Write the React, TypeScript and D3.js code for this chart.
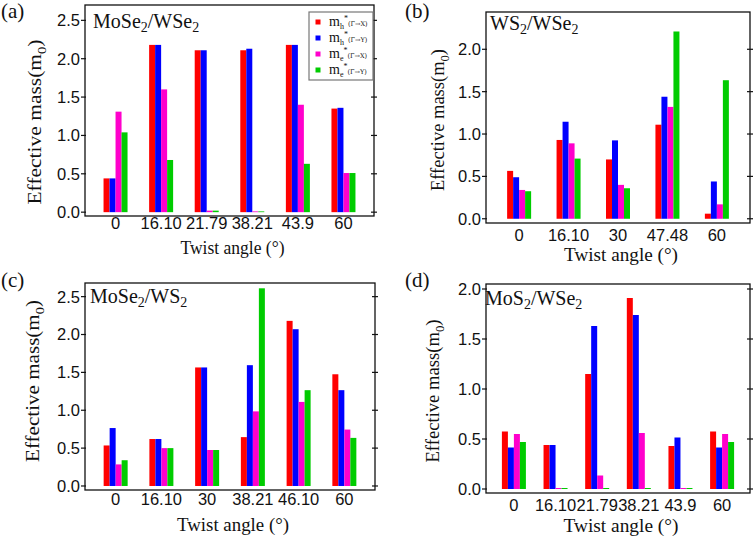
import React from 'react';
import * as d3 from 'd3';

const seriesKeys = ['mhX', 'mhY', 'meX', 'meY'];
const seriesColors = ['#ff0000', '#0000ff', '#ff00cc', '#00cc00'];
const legendSub = ['h', 'h', 'e', 'e'];
const legendDir = ['(Γ→X)', '(Γ→Y)', '(Γ→X)', '(Γ→Y)'];

// Panel (a) MoSe2/WSe2
const catsA = ['0', '16.10', '21.79', '38.21', '43.9', '60'];
const mhXA = [0.44, 2.18, 2.11, 2.11, 2.18, 1.35];
const mhYA = [0.44, 2.18, 2.11, 2.13, 2.18, 1.36];
const meXA = [1.31, 1.6, 0.02, 0.01, 1.4, 0.51];
const meYA = [1.04, 0.68, 0.02, 0.01, 0.63, 0.51];

// Panel (b) WS2/WSe2
const catsB = ['0', '16.10', '30', '47.48', '60'];
const mhXB = [0.565, 0.93, 0.7, 1.11, 0.06];
const mhYB = [0.49, 1.145, 0.925, 1.44, 0.44];
const meXB = [0.34, 0.89, 0.4, 1.32, 0.17];
const meYB = [0.325, 0.71, 0.36, 2.21, 1.635];

// Panel (c) MoSe2/WS2
const catsC = ['0', '16.10', '30', '38.21', '46.10', '60'];
const mhXC = [0.535, 0.62, 1.565, 0.645, 2.18, 1.475];
const mhYC = [0.765, 0.62, 1.565, 1.595, 2.07, 1.265];
const meXC = [0.285, 0.5, 0.475, 0.985, 1.11, 0.745];
const meYC = [0.34, 0.5, 0.475, 2.61, 1.265, 0.635];

// Panel (d) MoS2/WSe2
const catsD = ['0', '16.10', '21.79', '38.21', '43.9', '60'];
const mhXD = [0.575, 0.44, 1.15, 1.91, 0.43, 0.575];
const mhYD = [0.415, 0.44, 1.63, 1.74, 0.515, 0.415];
const meXD = [0.55, 0.01, 0.135, 0.56, 0.01, 0.55];
const meYD = [0.47, 0.01, 0.01, 0.01, 0.01, 0.47];

const ticksA = [0, 0.5, 1, 1.5, 2, 2.5];
const ticksB = [0, 0.5, 1, 1.5, 2];

const titleA: [string, boolean][] = [['MoSe', false], ['2', true], ['/WSe', false], ['2', true]];
const titleB: [string, boolean][] = [['WS', false], ['2', true], ['/WSe', false], ['2', true]];
const titleC: [string, boolean][] = [['MoSe', false], ['2', true], ['/WS', false], ['2', true]];
const titleD: [string, boolean][] = [['MoS', false], ['2', true], ['/WSe', false], ['2', true]];

const xAxisTitle = 'Twist angle (°)';
const yAxisTitle = 'Effective mass(m';

const SERIF = '"Liberation Serif", "DejaVu Serif", serif';
const SANS = '"Liberation Sans", Arial, sans-serif';

type PanelProps = {
  cats: string[];
  values: number[][];
  frame: [number, number, number, number];
  domain: [number, number];
  ticks: number[];
  label: string;
  labelX: number;
  labelY: number;
  title: [string, boolean][];
  titleX: number;
  titleY: number;
  xLabOff: number;
  xTitleOff: number;
  xTitleLen: number;
  yTitleX: number;
  yTitleY: number;
  yTitleLen: number;
  legend?: boolean;
};

function Panel(p: PanelProps) {
  const [x0, x1, y0, y1] = p.frame;
  const x = d3.scaleBand<string>().domain(p.cats).range([x0, x1]).paddingInner(0).paddingOuter(0.17);
  const y = d3.scaleLinear().domain(p.domain).range([y1, y0]);
  const groupW = 24;
  const inner = d3.scaleBand<string>().domain(seriesKeys).range([0, groupW]);
  const bw = x.bandwidth();
  return (
    <g>
      {p.cats.map((c, ci) =>
        seriesKeys.map((k, si) => {
          const v = p.values[si][ci];
          const bx = (x(c) as number) + bw / 2 - groupW / 2 + (inner(k) as number);
          return (
            <rect
              key={c + k}
              x={bx}
              y={y(v)}
              width={inner.bandwidth()}
              height={Math.max(0, y(0) - y(v))}
              fill={seriesColors[si]}
            />
          );
        })
      )}
      <rect x={x0} y={y0} width={x1 - x0} height={y1 - y0} fill="none" stroke="#111" strokeWidth={1.3} />
      {p.ticks.map((t) => (
        <g key={t}>
          <line x1={x0 - 4} x2={x0 + 1} y1={y(t)} y2={y(t)} stroke="#111" strokeWidth={1.2} />
          <line x1={x1 - 3} x2={x1 + 3} y1={y(t)} y2={y(t)} stroke="#111" strokeWidth={1.2} />
          <text x={x0 - 5} y={y(t)} dy="0.36em" textAnchor="end" fontFamily={SANS} fontSize={16.5} fill="#111">
            {d3.format('.1f')(t)}
          </text>
        </g>
      ))}
      {p.cats.map((c) => (
        <text
          key={c}
          x={(x(c) as number) + bw / 2}
          y={y1 + p.xLabOff}
          textAnchor="middle"
          fontFamily={SANS}
          fontSize={16.5}
          fill="#111"
        >
          {c}
        </text>
      ))}
      <text
        x={(x0 + x1) / 2 + 3}
        y={y1 + p.xTitleOff}
        textAnchor="middle"
        fontFamily={SERIF}
        fontSize={19}
        fill="#111"
        textLength={p.xTitleLen}
        lengthAdjust="spacingAndGlyphs"
      >
        {xAxisTitle}
      </text>
      <text
        transform={`translate(${p.yTitleX},${p.yTitleY}) rotate(-90)`}
        textAnchor="middle"
        fontFamily={SERIF}
        fontSize={19}
        fill="#111"
        textLength={p.yTitleLen}
        lengthAdjust="spacingAndGlyphs"
      >
        {yAxisTitle}
        <tspan fontSize={13} dy={5}>0</tspan>
        <tspan dy={-5}>)</tspan>
      </text>
      <text x={p.labelX} y={p.labelY} fontFamily={SERIF} fontSize={21} fill="#111">
        {p.label}
      </text>
      <text x={p.titleX} y={p.titleY} fontFamily={SERIF} fontSize={20} fill="#111">
        {p.title.map(([s, sub], i) => (
          <tspan key={i} fontSize={sub ? 14 : 20} dy={sub ? 4 : i > 0 ? -4 : 0}>
            {s}
          </tspan>
        ))}
      </text>
      {p.legend && (
        <g>
          <rect x={309} y={12} width={x1 - 310} height={68} fill="#fff" stroke="#777" strokeWidth={1.2} />
          {seriesKeys.map((k, i) => {
            const cy = 22 + i * 16;
            return (
              <g key={k}>
                <rect x={315.5} y={cy - 2.5} width={5} height={5} fill={seriesColors[i]} />
                <text x={329} y={cy + 4} fontFamily={SERIF} fontSize={14} fill="#111">
                  m
                  <tspan fontSize={8} dy={3}>{legendSub[i]}</tspan>
                  <tspan fontSize={8} dy={-8}>*</tspan>
                  <tspan fontFamily={'"DejaVu Serif", serif'} fontSize={6.5} dy={5}>{legendDir[i]}</tspan>
                </text>
              </g>
            );
          })}
        </g>
      )}
    </g>
  );
}

export default function App() {
  return (
    <svg
      width={756}
      height={540}
      style={{ position: 'absolute', left: 0, top: 0, background: '#fff' }}
    >
      <rect x={0} y={0} width={756} height={540} fill="#fff" />
      <Panel
        cats={catsA}
        values={[mhXA, mhYA, meXA, meYA]}
        frame={[85, 374, 5, 216]}
        domain={[-0.05, 2.7]}
        ticks={ticksA}
        label="(a)"
        labelX={1}
        labelY={18}
        title={titleA}
        titleX={93}
        titleY={28}
        xLabOff={13}
        xTitleOff={38}
        xTitleLen={104}
        yTitleX={41}
        yTitleY={122}
        yTitleLen={165}
        legend
      />
      <Panel
        cats={catsB}
        values={[mhXB, mhYB, meXB, meYB]}
        frame={[486, 750, 12, 223]}
        domain={[-0.05, 2.44]}
        ticks={ticksB}
        label="(b)"
        labelX={405}
        labelY={18}
        title={titleB}
        titleX={490}
        titleY={30}
        xLabOff={17.5}
        xTitleOff={38}
        xTitleLen={114}
        yTitleX={444}
        yTitleY={120}
        yTitleLen={142}
      />
      <Panel
        cats={catsC}
        values={[mhXC, mhYC, meXC, meYC]}
        frame={[85, 375, 283, 490]}
        domain={[-0.053, 2.68]}
        ticks={ticksA}
        label="(c)"
        labelX={1}
        labelY={287}
        title={titleC}
        titleX={90}
        titleY={303}
        xLabOff={15}
        xTitleOff={41}
        xTitleLen={112}
        yTitleX={39}
        yTitleY={381}
        yTitleLen={162}
      />
      <Panel
        cats={catsD}
        values={[mhXD, mhYD, meXD, meYD]}
        frame={[486, 750, 284, 493]}
        domain={[-0.04, 2.05]}
        ticks={ticksB}
        label="(d)"
        labelX={405}
        labelY={287}
        title={titleD}
        titleX={485}
        titleY={305}
        xLabOff={17.5}
        xTitleOff={38.5}
        xTitleLen={115}
        yTitleX={439}
        yTitleY={391}
        yTitleLen={143}
      />
    </svg>
  );
}
